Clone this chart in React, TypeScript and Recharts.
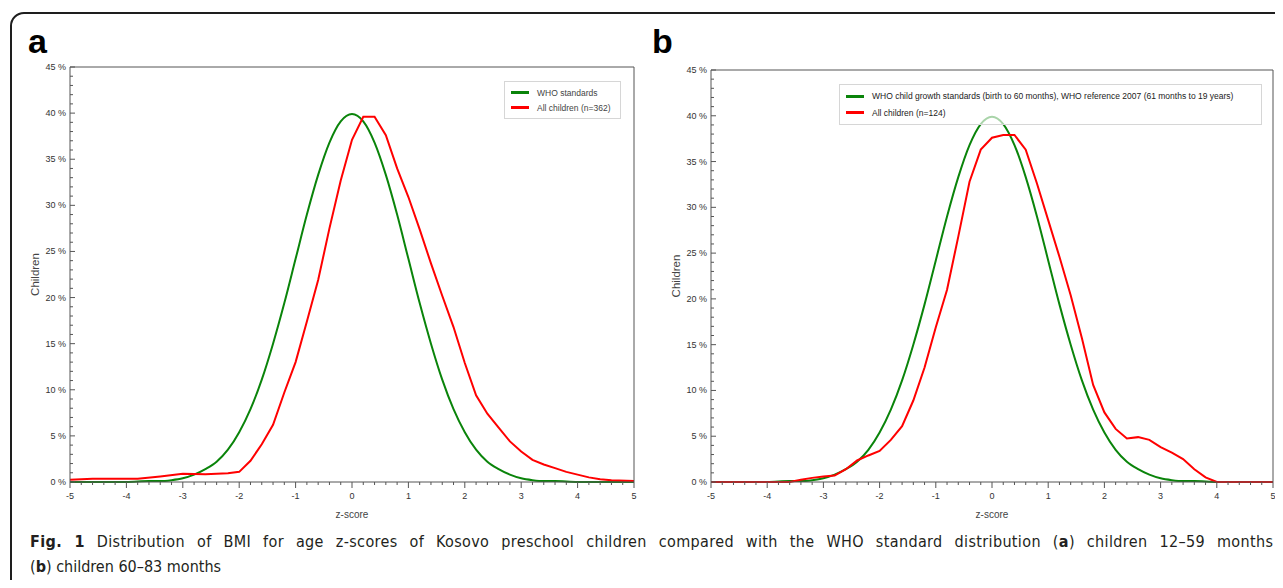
import { LineChart, Line, XAxis, YAxis, Legend } from "recharts";

const FONT = "'Liberation Sans', Arial, sans-serif";
const CAPTION_FONT = "'DejaVu Sans Condensed', 'Liberation Sans Narrow', sans-serif";
const GREEN = "#0a840a";
const RED = "#ff0000";
const AXIS = "#555";

// z-score ticks: major every 1, minor every 0.2
const zTicks = [
  -5, -4.8, -4.6, -4.4, -4.2, -4, -3.8, -3.6, -3.4, -3.2, -3, -2.8, -2.6, -2.4, -2.2, -2,
  -1.8, -1.6, -1.4, -1.2, -1, -0.8, -0.6, -0.4, -0.2, 0, 0.2, 0.4, 0.6, 0.8, 1, 1.2, 1.4,
  1.6, 1.8, 2, 2.2, 2.4, 2.6, 2.8, 3, 3.2, 3.4, 3.6, 3.8, 4, 4.2, 4.4, 4.6, 4.8, 5,
];
// percent ticks: major every 5, minor every 1
const pctTicks = [
  0, 1, 2, 3, 4, 5, 6, 7, 8, 9, 10, 11, 12, 13, 14, 15, 16, 17, 18, 19, 20, 21, 22, 23,
  24, 25, 26, 27, 28, 29, 30, 31, 32, 33, 34, 35, 36, 37, 38, 39, 40, 41, 42, 43, 44, 45,
];

// WHO standard curve (same in both panels)
const whoZ = [
  -5, -4.5, -4, -3.6, -3.4, -3.2, -3, -2.8, -2.6, -2.4, -2.2, -2, -1.8, -1.6, -1.4, -1.2, -1,
  -0.8, -0.6, -0.4, -0.2, 0, 0.2, 0.4, 0.6, 0.8, 1, 1.2, 1.4, 1.6, 1.8, 2, 2.2, 2.4, 2.6, 2.8,
  3, 3.2, 3.4, 3.6, 4, 4.5, 5,
];
const whoPct = [
  0, 0, 0, 0.1, 0.1, 0.2, 0.4, 0.8, 1.4, 2.2, 3.5, 5.4, 7.9, 11.1, 15.0, 19.4, 24.2,
  29.0, 33.3, 36.8, 39.1, 39.9, 39.1, 36.8, 33.3, 29.0, 24.2, 19.4, 15.0, 11.1, 7.9, 5.4, 3.5,
  2.2, 1.4, 0.8, 0.4, 0.2, 0.1, 0.1, 0, 0, 0,
];

// (a) children 12-59 months, n=362
const aZ = [
  -5, -4.6, -4.2, -3.8, -3.4, -3, -2.6, -2.2, -2, -1.8, -1.6, -1.4, -1.2, -1, -0.8, -0.6,
  -0.4, -0.2, 0, 0.2, 0.4, 0.6, 0.8, 1, 1.2, 1.4, 1.6, 1.8, 2, 2.2, 2.4, 2.6, 2.8, 3, 3.2,
  3.4, 3.6, 3.8, 4, 4.2, 4.4, 4.6, 5,
];
const aPct = [
  0.25, 0.35, 0.35, 0.35, 0.6, 0.9, 0.85, 0.95, 1.1, 2.3, 4.1, 6.2, 9.7, 13.0, 17.4, 21.9,
  27.5, 32.7, 37.1, 39.6, 39.6, 37.6, 34.0, 30.9, 27.4, 23.7, 20.2, 16.8, 12.9, 9.4, 7.4,
  5.9, 4.4, 3.3, 2.4, 1.9, 1.5, 1.1, 0.8, 0.5, 0.3, 0.2, 0.1,
];

// (b) children 60-83 months, n=124
const bZ = [
  -5, -4, -3.6, -3.4, -3.2, -3, -2.8, -2.6, -2.4, -2.2, -2, -1.8, -1.6, -1.4, -1.2, -1, -0.8,
  -0.6, -0.4, -0.2, 0, 0.2, 0.4, 0.6, 0.8, 1, 1.2, 1.4, 1.6, 1.8, 2, 2.2, 2.4, 2.6, 2.8, 3,
  3.2, 3.4, 3.6, 3.8, 4, 5,
];
const bPct = [
  0, 0, 0, 0.25, 0.45, 0.6, 0.7, 1.4, 2.35, 2.9, 3.4, 4.6, 6.1, 8.9, 12.5, 16.9, 21.0,
  26.8, 32.8, 36.3, 37.6, 37.9, 37.9, 36.3, 32.6, 28.6, 24.6, 20.4, 15.7, 10.6, 7.6, 5.8,
  4.75, 4.9, 4.6, 3.8, 3.2, 2.5, 1.4, 0.5, 0, 0,
];

type Pt = { z: number; pct: number };
const toPoints = (zs: number[], ps: number[]): Pt[] => zs.map((z, i) => ({ z, pct: ps[i] }));

const isMajor = (v: number, step: number) => Math.abs(v / step - Math.round(v / step)) < 1e-6;

function BottomTick(props: any) {
  const { x, y, payload } = props;
  const v = payload.value as number;
  const major = isMajor(v, 1);
  return (
    <g>
      <line x1={x} x2={x} y1={y} y2={y + (major ? 6 : 3)} stroke={AXIS} />
      {major && (
        <text x={x} y={y + 17} textAnchor="middle" fontSize={9} fill="#333" fontFamily={FONT}>
          {Math.round(v)}
        </text>
      )}
    </g>
  );
}

function TopTick(props: any) {
  const { x, y, payload } = props;
  const major = isMajor(payload.value, 1);
  return <line x1={x} x2={x} y1={y} y2={y + (major ? 5 : 3)} stroke={AXIS} />;
}

function LeftTick(props: any) {
  const { x, y, payload } = props;
  const v = payload.value as number;
  const major = isMajor(v, 5);
  return (
    <g>
      <line x1={x} x2={x + (major ? 5 : 3)} y1={y} y2={y} stroke={AXIS} />
      {major && (
        <text x={x - 4} y={y + 3} textAnchor="end" fontSize={9} fill="#333" fontFamily={FONT}>
          {`${v} %`}
        </text>
      )}
    </g>
  );
}

function RightTick(props: any) {
  const { x, y, payload } = props;
  const major = isMajor(payload.value, 5);
  return <line x1={x} x2={x - (major ? 5 : 3)} y1={y} y2={y} stroke={AXIS} />;
}

type LegendItem = { label: string; color: string };

function LegendBox({ items, width, rowHeight, color }: { items: LegendItem[]; width: number; rowHeight: number; color: string }) {
  return (
    <div
      style={{
        width,
        boxSizing: "border-box",
        border: "1px solid #d6d6d6",
        background: "rgba(255,255,255,0.65)",
        padding: "3px 0 3px 6px",
        fontFamily: FONT,
        fontSize: 8.5,
        color,
      }}
    >
      {items.map((it) => (
        <div key={it.label} style={{ display: "flex", alignItems: "center", height: rowHeight, whiteSpace: "nowrap" }}>
          <span style={{ display: "inline-block", width: 18, height: 3, background: it.color, marginRight: 8 }} />
          {it.label}
        </div>
      ))}
    </div>
  );
}

interface PanelProps {
  left: number;
  top: number;
  width: number;
  height: number;
  margin: { top: number; right: number; bottom: number; left: number };
  children: Pt[];
  legend: LegendItem[];
  legendPos: { top: number; left: number; width: number; rowHeight: number; color: string };
}

function Panel({ left, top, width, height, margin, children, legend, legendPos }: PanelProps) {
  const who = toPoints(whoZ, whoPct);
  return (
    <div style={{ position: "absolute", left, top }}>
      <LineChart width={width} height={height} margin={margin}>
        <XAxis
          dataKey="z"
          type="number"
          domain={[-5, 5]}
          ticks={zTicks}
          interval={0}
          height={40}
          tickSize={0}
          tickMargin={0}
          tickLine={false}
          tick={<BottomTick />}
          axisLine={{ stroke: AXIS }}
          label={{ value: "z-score", position: "insideBottom", offset: 4, fill: "#444", fontSize: 10, fontFamily: FONT }}
        />
        <XAxis
          xAxisId="top"
          orientation="top"
          type="number"
          domain={[-5, 5]}
          ticks={zTicks}
          interval={0}
          height={1}
          tickSize={0}
          tickMargin={0}
          tickLine={false}
          tick={<TopTick />}
          axisLine={{ stroke: AXIS }}
        />
        <YAxis
          type="number"
          domain={[0, 45]}
          ticks={pctTicks}
          interval={0}
          width={40}
          tickSize={0}
          tickMargin={0}
          tickLine={false}
          tick={<LeftTick />}
          axisLine={{ stroke: AXIS }}
          label={{
            value: "Children",
            angle: -90,
            position: "insideLeft",
            offset: 5,
            fill: "#444",
            fontSize: 11.5,
            fontFamily: FONT,
            style: { textAnchor: "middle" },
          }}
        />
        <YAxis
          yAxisId="right"
          orientation="right"
          type="number"
          domain={[0, 45]}
          ticks={pctTicks}
          interval={0}
          width={1}
          tickSize={0}
          tickMargin={0}
          tickLine={false}
          tick={<RightTick />}
          axisLine={{ stroke: AXIS }}
        />
        <Legend
          layout="vertical"
          align="center"
          verticalAlign="middle"
          wrapperStyle={{ top: legendPos.top, left: legendPos.left, width: legendPos.width }}
          content={() => (
            <LegendBox items={legend} width={legendPos.width} rowHeight={legendPos.rowHeight} color={legendPos.color} />
          )}
        />
        <Line
          data={who}
          dataKey="pct"
          type="monotone"
          stroke={GREEN}
          strokeWidth={2}
          dot={false}
          isAnimationActive={false}
        />
        <Line
          data={children}
          dataKey="pct"
          type="linear"
          stroke={RED}
          strokeWidth={2}
          dot={false}
          isAnimationActive={false}
        />
      </LineChart>
    </div>
  );
}

export default function App() {
  return (
    <div
      style={{
        margin: -8,
        width: 1283,
        height: 588,
        position: "relative",
        overflow: "hidden",
        background: "#fff",
        fontFamily: FONT,
      }}
    >
      <div
        style={{
          position: "absolute",
          left: 10,
          top: 12,
          width: 1300,
          height: 620,
          border: "2px solid #1e1e1e",
          borderRadius: 14,
        }}
      />
      <div style={{ position: "absolute", left: 28, top: 24, fontSize: 34, fontWeight: 700, lineHeight: 1 }}>a</div>
      <div style={{ position: "absolute", left: 652, top: 24, fontSize: 34, fontWeight: 700, lineHeight: 1 }}>b</div>

      <Panel
        left={10}
        top={60}
        width={640}
        height={470}
        margin={{ top: 6, right: 15, bottom: 8, left: 20 }}
        children={toPoints(aZ, aPct)}
        legend={[
          { label: "WHO standards", color: GREEN },
          { label: "All children (n=362)", color: RED },
        ]}
        legendPos={{ top: 21, left: 494, width: 117, rowHeight: 15, color: "#444" }}
      />
      <Panel
        left={651}
        top={60}
        width={632}
        height={470}
        margin={{ top: 9, right: 9, bottom: 8, left: 20 }}
        children={toPoints(bZ, bPct)}
        legend={[
          {
            label: "WHO child growth standards (birth to 60 months), WHO reference 2007 (61 months to 19 years)",
            color: GREEN,
          },
          { label: "All children (n=124)", color: RED },
        ]}
        legendPos={{ top: 24, left: 188, width: 423, rowHeight: 16.5, color: "#222" }}
      />

      <svg width={1283} height={60} style={{ position: "absolute", left: 0, top: 528 }}>
        <text
          x={30}
          y={19}
          textLength={1243}
          lengthAdjust="spacing"
          fontFamily={CAPTION_FONT}
          fontSize={16}
          fill="#231f20"
          style={{ wordSpacing: 7 }}
        >
          <tspan fontWeight={700}>Fig. 1</tspan>
          {" Distribution of BMI for age z-scores of Kosovo preschool children compared with the WHO standard distribution ("}
          <tspan fontWeight={700}>a</tspan>
          {") children 12–59 months"}
        </text>
        <text x={30} y={44} fontFamily={CAPTION_FONT} fontSize={16} fill="#231f20">
          {"("}
          <tspan fontWeight={700}>b</tspan>
          {") children 60–83 months"}
        </text>
      </svg>
    </div>
  );
}
